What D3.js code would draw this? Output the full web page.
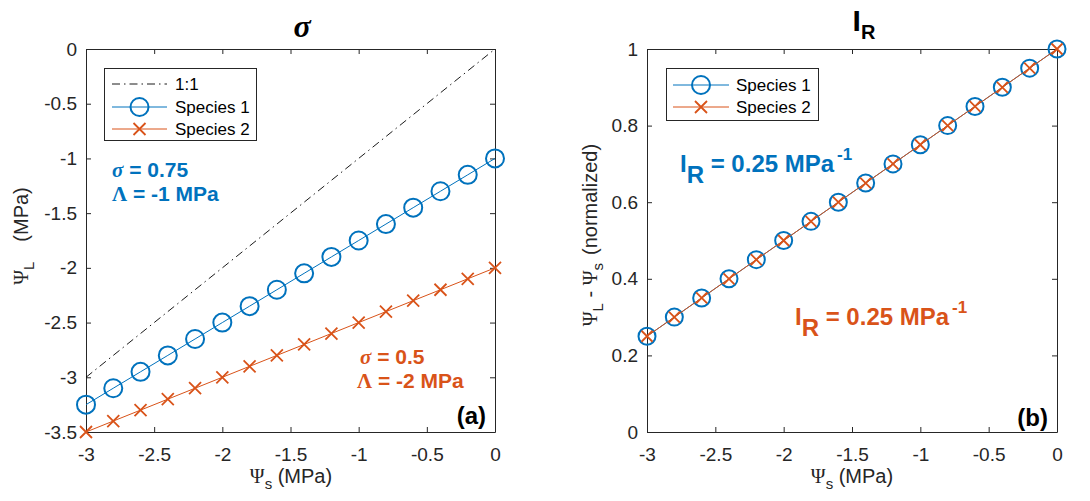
<!DOCTYPE html>
<html>
<head>
<meta charset="utf-8">
<script src="https://cdn.jsdelivr.net/npm/d3@7"></script>
<style>
  html, body { margin: 0; padding: 0; background: #fff; }
  svg { display: block; }
  text { font-family: "Liberation Sans", Arial, Helvetica, sans-serif; }
</style>
</head>
<body>
<svg id="fig" width="1090" height="501"></svg>
<script>
// Soil water potential (MPa), shared by both panels
const psiS = [-3, -2.8, -2.6, -2.4, -2.2, -2, -1.8, -1.6, -1.4, -1.2, -1, -0.8, -0.6, -0.4, -0.2, 0];

// Panel (a): leaf water potential
const leafSp1 = [-3.25, -3.1, -2.95, -2.8, -2.65, -2.5, -2.35, -2.2, -2.05, -1.9, -1.75, -1.6, -1.45, -1.3, -1.15, -1];
const leafSp2 = [-3.5, -3.4, -3.3, -3.2, -3.1, -3, -2.9, -2.8, -2.7, -2.6, -2.5, -2.4, -2.3, -2.2, -2.1, -2];
const oneToOneX = [-3, 0];
const oneToOneY = [-3, 0];

// Panel (b): normalized difference
const normSp1 = [0.25, 0.3, 0.35, 0.4, 0.45, 0.5, 0.55, 0.6, 0.65, 0.7, 0.75, 0.8, 0.85, 0.9, 0.95, 1];
const normSp2 = [0.25, 0.3, 0.35, 0.4, 0.45, 0.5, 0.55, 0.6, 0.65, 0.7, 0.75, 0.8, 0.85, 0.9, 0.95, 1];

// Tick values
const xTicks = [-3, -2.5, -2, -1.5, -1, -0.5, 0];
const yTicksA = [-3.5, -3, -2.5, -2, -1.5, -1, -0.5, 0];
const yTicksB = [0, 0.2, 0.4, 0.6, 0.8, 1];

const BLUE = "#0072BD";
const RED = "#D95319";
const AXC = "#262626";
const SERIF = "'Liberation Serif', 'DejaVu Serif', serif";

const svg = d3.select("#fig");

function fmt(v) { return String(v); }

function makePanel(opts) {
  const { left, right, top, bottom, yDomain, yTicks } = opts;
  const x = d3.scaleLinear().domain([-3, 0]).range([left, right]);
  const y = d3.scaleLinear().domain(yDomain).range([bottom, top]);
  const g = svg.append("g");

  // boxed axes with inward ticks
  const tl = 5;
  const axB = g.append("g").attr("transform", `translate(0,${bottom})`)
    .call(d3.axisBottom(x).tickValues(xTicks).tickFormat(fmt).tickSizeInner(-tl).tickSizeOuter(0).tickPadding(16));
  const axT = g.append("g").attr("transform", `translate(0,${top})`)
    .call(d3.axisTop(x).tickValues(xTicks).tickFormat("").tickSizeInner(-tl).tickSizeOuter(0));
  const axL = g.append("g").attr("transform", `translate(${left},0)`)
    .call(d3.axisLeft(y).tickValues(yTicks).tickFormat(fmt).tickSizeInner(-tl).tickSizeOuter(0).tickPadding(9));
  const axR = g.append("g").attr("transform", `translate(${right},0)`)
    .call(d3.axisRight(y).tickValues(yTicks).tickFormat("").tickSizeInner(-tl).tickSizeOuter(0));
  [axB, axT, axL, axR].forEach(a => {
    a.select(".domain").attr("stroke", AXC).attr("stroke-width", 1);
    a.selectAll(".tick line").attr("stroke", AXC).attr("stroke-width", 1);
    a.selectAll(".tick text").attr("fill", AXC).style("font-size", "19px")
      .style("font-family", "'Liberation Sans', Arial, sans-serif");
  });
  return { g, x, y };
}

function drawSeries(p, xs, ys, color, marker, r) {
  const pts = xs.map((v, i) => [v, ys[i]]);
  p.g.append("path").datum(pts)
    .attr("fill", "none").attr("stroke", color).attr("stroke-width", 1)
    .attr("d", d3.line().x(d => p.x(d[0])).y(d => p.y(d[1])));
  drawMarkers(p.g, pts.map(d => [p.x(d[0]), p.y(d[1])]), color, marker, r);
}

function drawMarkers(g, pts, color, marker, r) {
  if (marker === "o") {
    g.selectAll(null).data(pts).join("circle")
      .attr("cx", d => d[0]).attr("cy", d => d[1]).attr("r", r)
      .attr("fill", "none").attr("stroke", color).attr("stroke-width", 2);
  } else {
    g.selectAll(null).data(pts).join("path")
      .attr("d", d => `M${d[0]-r},${d[1]-r}L${d[0]+r},${d[1]+r}M${d[0]-r},${d[1]+r}L${d[0]+r},${d[1]-r}`)
      .attr("fill", "none").attr("stroke", color).attr("stroke-width", 1.8);
  }
}

// Text with sub/superscript parts: [{t, serif, italic, size, dx, dy}]
function richText(sel, x, y, parts, size, attrs) {
  const t = sel.append("text").attr("x", x).attr("y", y).style("font-size", size + "px");
  Object.entries(attrs || {}).forEach(([k, v]) => t.attr(k, v));
  parts.forEach(p => {
    const s = t.append("tspan").text(p.t);
    if (p.serif) s.style("font-family", SERIF);
    if (p.italic) s.style("font-style", "italic");
    if (p.size) s.style("font-size", p.size + "px");
    if (p.dy) s.attr("dy", p.dy);
    if (p.dx) s.attr("dx", p.dx);
  });
  return t;
}

// ---------- Panel (a) ----------
const pa = makePanel({ left: 86, right: 495, top: 49, bottom: 432, yDomain: [-3.5, 0], yTicks: yTicksA });

// 1:1 reference
pa.g.append("path").datum(oneToOneX.map((v, i) => [v, oneToOneY[i]]))
  .attr("fill", "none").attr("stroke", "#000").attr("stroke-width", 0.9)
  .attr("stroke-dasharray", "8,4,1.5,4")
  .attr("d", d3.line().x(d => pa.x(d[0])).y(d => pa.y(d[1])));
drawSeries(pa, psiS, leafSp2, RED, "x", 6);
drawSeries(pa, psiS, leafSp1, BLUE, "o", 9);

// legend (a)
(function () {
  const g = pa.g.append("g");
  g.append("rect").attr("x", 104.5).attr("y", 68.5).attr("width", 152).attr("height", 72)
    .attr("fill", "#fff").attr("stroke", AXC).attr("stroke-width", 1);
  const rows = [
    { y: 84, label: "1:1", color: "#000", dash: "8,4,1.5,4", marker: null },
    { y: 107, label: "Species 1", color: BLUE, marker: "o", r: 9 },
    { y: 129, label: "Species 2", color: RED, marker: "x", r: 6 }
  ];
  rows.forEach(rw => {
    g.append("line").attr("x1", 112).attr("x2", 167).attr("y1", rw.y).attr("y2", rw.y)
      .attr("stroke", rw.color).attr("stroke-width", rw.marker ? 1 : 0.9)
      .attr("stroke-dasharray", rw.dash || null);
    if (rw.marker) drawMarkers(g, [[139.5, rw.y]], rw.color, rw.marker, rw.r);
    g.append("text").attr("x", 175).attr("y", rw.y + 6).text(rw.label)
      .style("font-size", "17px").attr("fill", "#000");
  });
})();

// annotations (a)
richText(pa.g, 112, 177, [{ t: "σ", serif: true, italic: true }, { t: " = 0.75" }], 21,
  { fill: BLUE, "font-weight": "bold" });
richText(pa.g, 112, 201, [{ t: "Λ", serif: true }, { t: " = -1 MPa" }], 21,
  { fill: BLUE, "font-weight": "bold" });
richText(pa.g, 360, 364, [{ t: "σ", serif: true, italic: true }, { t: " = 0.5" }], 21,
  { fill: RED, "font-weight": "bold" });
richText(pa.g, 357, 388, [{ t: "Λ", serif: true }, { t: " = -2 MPa" }], 21,
  { fill: RED, "font-weight": "bold" });
pa.g.append("text").attr("x", 486).attr("y", 424).attr("text-anchor", "end")
  .style("font-size", "24px").attr("font-weight", "bold").attr("fill", "#000").text("(a)");

// title (a)
pa.g.append("text").attr("x", 302).attr("y", 37).attr("text-anchor", "middle")
  .style("font-family", SERIF)
  .style("font-size", "32px").style("font-style", "italic").attr("font-weight", "bold")
  .attr("fill", "#000").text("σ");

// axis labels (a)
richText(pa.g, 291, 483, [{ t: "Ψ", serif: true }, { t: "s", size: 15, dy: 6 }, { t: " (MPa)", dy: -6 }], 20,
  { fill: AXC, "text-anchor": "middle" });
richText(pa.g, 0, 0, [{ t: "Ψ", serif: true }, { t: "L", size: 15, dy: 6 }, { t: "(MPa)", dy: -6, dx: 20 }], 20,
  { fill: AXC, "text-anchor": "middle", transform: "translate(28,236) rotate(-90)" });

// ---------- Panel (b) ----------
const pb = makePanel({ left: 647, right: 1057, top: 49, bottom: 432, yDomain: [0, 1], yTicks: yTicksB });
drawSeries(pb, psiS, normSp1, BLUE, "o", 8.5);
drawSeries(pb, psiS, normSp2, RED, "x", 5.5);

// legend (b)
(function () {
  const g = pb.g.append("g");
  g.append("rect").attr("x", 666.5).attr("y", 68.5).attr("width", 152).attr("height", 52)
    .attr("fill", "#fff").attr("stroke", AXC).attr("stroke-width", 1);
  const rows = [
    { y: 85, label: "Species 1", color: BLUE, marker: "o", r: 9 },
    { y: 107, label: "Species 2", color: RED, marker: "x", r: 6 }
  ];
  rows.forEach(rw => {
    g.append("line").attr("x1", 673).attr("x2", 729).attr("y1", rw.y).attr("y2", rw.y)
      .attr("stroke", rw.color).attr("stroke-width", 1);
    drawMarkers(g, [[701, rw.y]], rw.color, rw.marker, rw.r);
    g.append("text").attr("x", 736).attr("y", rw.y + 6).text(rw.label)
      .style("font-size", "17px").attr("fill", "#000");
  });
})();

// annotations (b)
richText(pb.g, 680, 172, [{ t: "I" }, { t: "R", dy: 11 }, { t: " = 0.25 MPa", dy: -11 }, { t: "-1", size: 17, dy: -12, dx: 3 }], 24,
  { fill: BLUE, "font-weight": "bold" });
richText(pb.g, 795, 325, [{ t: "I" }, { t: "R", dy: 11 }, { t: " = 0.25 MPa", dy: -11 }, { t: "-1", size: 17, dy: -12, dx: 3 }], 24,
  { fill: RED, "font-weight": "bold" });
pb.g.append("text").attr("x", 1048).attr("y", 426).attr("text-anchor", "end")
  .style("font-size", "24px").attr("font-weight", "bold").attr("fill", "#000").text("(b)");

// title (b)
richText(pb.g, 864, 31, [{ t: "I" }, { t: "R", size: 20, dy: 8 }], 30,
  { fill: "#000", "font-weight": "bold", "text-anchor": "middle" });

// axis labels (b)
richText(pb.g, 852, 483, [{ t: "Ψ", serif: true }, { t: "s", size: 15, dy: 6 }, { t: " (MPa)", dy: -6 }], 20,
  { fill: AXC, "text-anchor": "middle" });
richText(pb.g, 0, 0, [{ t: "Ψ", serif: true }, { t: "L", size: 15, dy: 6 }, { t: " - ", dy: -6 }, { t: "Ψ", serif: true }, { t: "s", size: 15, dy: 6 }, { t: "(normalized)", dy: -6, dx: 8 }], 20,
  { fill: AXC, "text-anchor": "middle", transform: "translate(597,235) rotate(-90)" });
</script>
</body>
</html>
